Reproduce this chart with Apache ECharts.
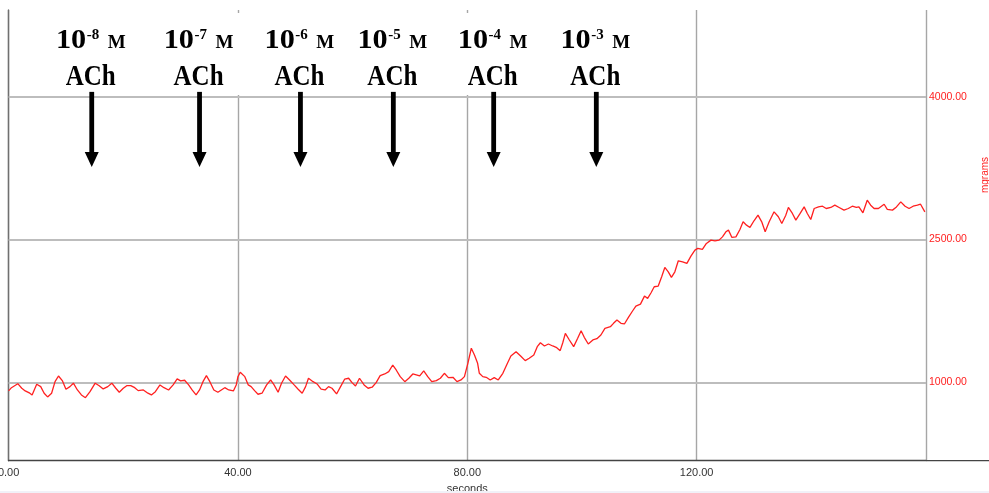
<!DOCTYPE html>
<html>
<head>
<meta charset="utf-8">
<script src="https://cdn.jsdelivr.net/npm/echarts@6/dist/echarts.min.js"></script>
<style>
html,body{margin:0;padding:0;background:#fff;}
#main{width:989px;height:493px;}
</style>
</head>
<body>
<div id="main"></div>
<script>
// ---- data ----
const times = [
  0, 0.5, 1.6, 2.3, 2.9, 3.7, 4.1, 4.9, 5.6, 6.2, 6.8, 7.5, 8.1, 8.7, 9.4, 10.0, 10.7, 11.3, 12.0, 12.7,
  13.4, 14.2, 15.1, 15.8, 16.5, 17.3, 18.0, 18.7, 19.3, 20.0, 20.6, 21.3, 22.0, 22.6, 23.5, 24.3, 24.9, 25.6, 26.4, 27.1,
  27.9, 28.7, 29.4, 30.0, 30.7, 31.4, 32.0, 32.7, 33.3, 33.9, 34.5, 35.1, 35.8, 36.5, 37.1, 37.7, 38.4, 39.2, 39.7,
  40.0, 40.4, 41.2, 41.8, 42.3, 42.9, 43.5, 44.2, 45.0, 45.7, 46.3, 47.0, 47.6, 48.3, 49.0, 49.8, 50.5, 51.2, 51.8, 52.3,
  53.1, 53.8, 54.5, 55.2, 55.8, 56.4, 57.2, 57.9, 58.6, 59.3, 59.9, 60.5, 61.2, 62.0, 62.7, 63.4, 64.1, 64.8, 65.6, 66.3,
  67.0, 67.6, 68.3, 69.1, 69.8, 70.5, 71.1, 71.7, 72.4, 73.1, 73.8, 74.6, 75.3, 76.0, 76.7, 77.5, 78.2, 78.9, 79.5,
  80.1, 80.7, 81.25, 81.8, 82.1, 82.7, 83.3, 84.0, 84.7, 85.4, 86.2, 87.0, 87.6, 88.5, 89.3, 90.1, 90.8, 91.6, 92.2, 92.75,
  93.45, 94.15, 94.9, 95.5, 96.2, 96.65, 97.1, 97.8, 98.55, 99.25, 99.85, 100.4, 101.1, 101.9, 102.6, 103.3, 104.0, 104.95, 105.5, 106.1,
  106.8, 107.4, 108.1, 108.85, 109.4, 110.2, 110.9, 111.45, 112.05, 112.6, 113.3, 113.9, 114.45, 115.05, 115.6, 116.2, 116.8, 117.55, 118.3, 119.0,
  119.7, 120.2, 121.0, 121.7, 122.5, 123.2, 123.9, 124.5, 125.1, 125.55, 126.15, 126.85, 127.55, 128.1, 128.7, 129.3, 130.0, 130.7, 131.35, 131.95,
  132.65, 133.5, 134.25, 134.85, 135.55, 136.0, 136.7, 137.3, 138.05, 138.75, 139.3, 139.9, 140.5, 141.25, 141.95, 142.6, 143.4, 144.1, 144.85, 145.7,
  146.45, 147.15, 147.85, 148.3, 149.0, 149.75, 150.35, 150.95, 151.7, 152.7, 153.25, 154.15, 154.85, 155.6, 156.35, 157.05, 157.75, 158.5, 159.05, 159.8
];
const values = [
  909, 943, 985, 937, 909, 885, 867, 979, 954, 885, 846, 885, 1006, 1066, 1014, 927, 954, 990, 919, 867,
  838, 901, 990, 964, 930, 954, 990, 937, 895, 937, 964, 964, 943, 912, 919, 885, 867, 901, 972, 943,
  919, 972, 1035, 1014, 1021, 972, 919, 867, 919, 1006, 1069, 1006, 919, 895, 919, 943, 919, 909, 972,
  1059, 1105, 1059, 972, 954, 912, 874, 885, 972, 1024, 972, 895, 990, 1066, 1024, 972, 927, 885, 954, 1042,
  1006, 982, 927, 919, 954, 937, 877, 954, 1032, 1042, 996, 961, 1042, 972, 937, 948, 996, 1069, 1087, 1111,
  1181, 1129, 1059, 1006, 1042, 1087, 1077, 1066, 1119, 1059, 1006, 1017, 1042, 1094, 1048, 1052, 1006, 1024, 1059,
  1199, 1357, 1286, 1199, 1094, 1059, 1052, 1024, 1048, 1024, 1094, 1199, 1276, 1321, 1276, 1227, 1252, 1286, 1374, 1415,
  1381, 1402, 1381, 1367, 1332, 1415, 1514, 1444, 1374, 1462, 1541, 1472, 1402, 1444, 1457, 1496, 1566, 1583, 1619, 1654,
  1619, 1612, 1682, 1751, 1800, 1821, 1905, 1881, 1940, 2003, 2010, 2108, 2206, 2160, 2101, 2160, 2276, 2265, 2248, 2325,
  2388, 2406, 2395, 2458, 2493, 2486, 2493, 2527, 2580, 2598, 2521, 2527, 2605, 2685, 2650, 2626, 2696, 2755, 2685, 2580,
  2685, 2790, 2738, 2668, 2755, 2836, 2773, 2703, 2773, 2842, 2773, 2710, 2825, 2842, 2849, 2825, 2836, 2860, 2836, 2808,
  2825, 2849, 2836, 2842, 2780, 2912, 2860, 2825, 2825, 2870, 2815, 2808, 2842, 2895, 2849, 2825, 2849, 2860, 2870, 2790
];
const xTickValues = [0, 40, 80, 120];
const yTickValues = [1000, 2500, 4000];
const injectionTimes = [14.5, 33.3, 50.9, 67.1, 84.6, 102.5];
const exponents = ['-8', '-7', '-6', '-5', '-4', '-3'];
const unitLabel = 'M';
const drugLabel = 'ACh';
const xName = 'seconds';
const yName = 'mgrams';

// ---- chart ----
const chart = echarts.init(document.getElementById('main'), null, {renderer: 'canvas'});
const traceData = times.map((t, i) => [t, values[i]]);
const RED = '#ff2020';

const option = {
  animation: false,
  backgroundColor: '#fff',
  grid: {left: 8.6, right: 63, top: 10, bottom: 32.3, containLabel: false, outerBoundsMode: 'none'},
  xAxis: {
    type: 'value', min: 0, max: 160, interval: 40,
    axisLine: {show: true, lineStyle: {color: '#444', width: 1.3}},
    axisTick: {show: false},
    axisLabel: {
      color: '#333', fontSize: 11, fontFamily: 'Liberation Sans', margin: 7,
      showMaxLabel: false,
      formatter: v => xTickValues.includes(v) ? v.toFixed(2) : ''
    },
    splitLine: {show: true, lineStyle: {color: '#a6a6a6', width: 1.4}},
    name: xName, nameLocation: 'middle', nameGap: 17,
    nameTextStyle: {color: '#333', fontSize: 11, fontFamily: 'Liberation Sans'}
  },
  yAxis: {
    type: 'value', position: 'right', min: 176, max: 4910,
    axisLine: {show: true, lineStyle: {color: '#707070', width: 1.4}},
    axisTick: {show: false},
    axisLabel: {show: false},
    splitLine: {show: false}
  },
  series: [{
    type: 'line',
    data: traceData,
    showSymbol: false,
    smooth: false,
    lineStyle: {color: RED, width: 1.3},
    z: 3,
    markLine: {
      silent: true,
      symbol: 'none',
      z: 1,
      animation: false,
      lineStyle: {color: '#bdbdbd', width: 2, type: 'solid'},
      label: {
        show: true, position: 'end', distance: 3,
        color: RED, fontSize: 10.5, fontFamily: 'Liberation Sans',
        formatter: p => Number(p.value).toFixed(2)
      },
      emphasis: {disabled: true},
      data: yTickValues.map(v => ({yAxis: v}))
    }
  }]
};
chart.setOption(option);

// ---- annotations placed through the axis scales ----
const ctx = document.createElement('canvas').getContext('2d');
function measure(text, font) { ctx.font = font; return ctx.measureText(text).width; }
const SERIF = '"Liberation Serif", "Times New Roman", serif';
const sBig = 27, sSup = 15, sM = 19, sDrug = 25;
const fBig = 'bold ' + sBig + 'px ' + SERIF;
const fSup = 'bold ' + sSup + 'px ' + SERIF;
const fM = 'bold ' + sM + 'px ' + SERIF;
const fDrug = 'bold ' + sDrug + 'px ' + SERIF;
const BASE_K = 0.8375; // top-anchored text: baseline offset as a fraction of font size
const bigScaleX = 1.12, drugScaleY = 1.15;

const yTop = chart.convertToPixel({yAxisIndex: 0}, 4050);
const yTip = chart.convertToPixel({yAxisIndex: 0}, 3260);
const yBottom = chart.convertToPixel({yAxisIndex: 0}, 176);
const xRight = chart.convertToPixel({xAxisIndex: 0}, 160);
const x0 = chart.convertToPixel({xAxisIndex: 0}, 0);

const graphics = [];
graphics.push({type: 'rect', z: 100, silent: true,
  shape: {x: x0 + 1.5, y: 13, width: 650, height: 82}, style: {fill: '#fff'}});
graphics.push({type: 'rect', z: 90, silent: true,
  shape: {x: 0, y: 491, width: 989, height: 2}, style: {fill: '#f1f1f8'}});
graphics.push({type: 'line', z: 100, silent: true,
  shape: {x1: xRight, y1: yBottom, x2: 989, y2: yBottom}, style: {stroke: '#444', lineWidth: 1.3}});
graphics.push({type: 'text', z: 100, silent: true, x: 985, y: 175, rotation: Math.PI / 2,
  style: {text: yName, fill: RED, font: '10px "Liberation Sans"', textAlign: 'center', textVerticalAlign: 'middle'}});

const rowBase1 = 50, supBase = 40, rowBase2 = 87.5;
injectionTimes.forEach((t, i) => {
  const cx = chart.convertToPixel({xAxisIndex: 0}, t);
  // arrow
  const headH = 15;
  graphics.push({type: 'rect', z: 101, silent: true,
    shape: {x: cx - 2.4, y: yTop, width: 4.8, height: yTip - yTop - headH + 1}, style: {fill: '#000'}});
  graphics.push({type: 'polygon', z: 101, silent: true,
    shape: {points: [[cx - 7, yTip - headH], [cx + 7, yTip - headH], [cx, yTip]]}, style: {fill: '#000'}});
  // concentration label
  const w10 = measure('10', fBig) * bigScaleX, wSup = measure(exponents[i], fSup), wM = measure(unitLabel, fM);
  const gap = 9;
  const total = w10 + wSup + gap + wM;
  const left = cx - 1 - total / 2;
  graphics.push({type: 'text', z: 101, silent: true, x: left, y: rowBase1 - BASE_K * sBig, scaleX: bigScaleX,
    style: {text: '10', font: fBig, fill: '#000', textAlign: 'left', textVerticalAlign: 'top'}});
  graphics.push({type: 'text', z: 101, silent: true, x: left + w10 + 0.5, y: supBase - BASE_K * sSup,
    style: {text: exponents[i], font: fSup, fill: '#000', textAlign: 'left', textVerticalAlign: 'top'}});
  graphics.push({type: 'text', z: 101, silent: true, x: left + w10 + wSup + gap, y: rowBase1 - BASE_K * sM,
    style: {text: unitLabel, font: fM, fill: '#000', textAlign: 'left', textVerticalAlign: 'top'}});
  graphics.push({type: 'text', z: 101, silent: true, x: cx - 1, y: rowBase2 - BASE_K * sDrug * drugScaleY, scaleY: drugScaleY,
    style: {text: drugLabel, font: fDrug, fill: '#000', textAlign: 'center', textVerticalAlign: 'top'}});
});
chart.setOption({graphic: graphics});
</script>
</body>
</html>
